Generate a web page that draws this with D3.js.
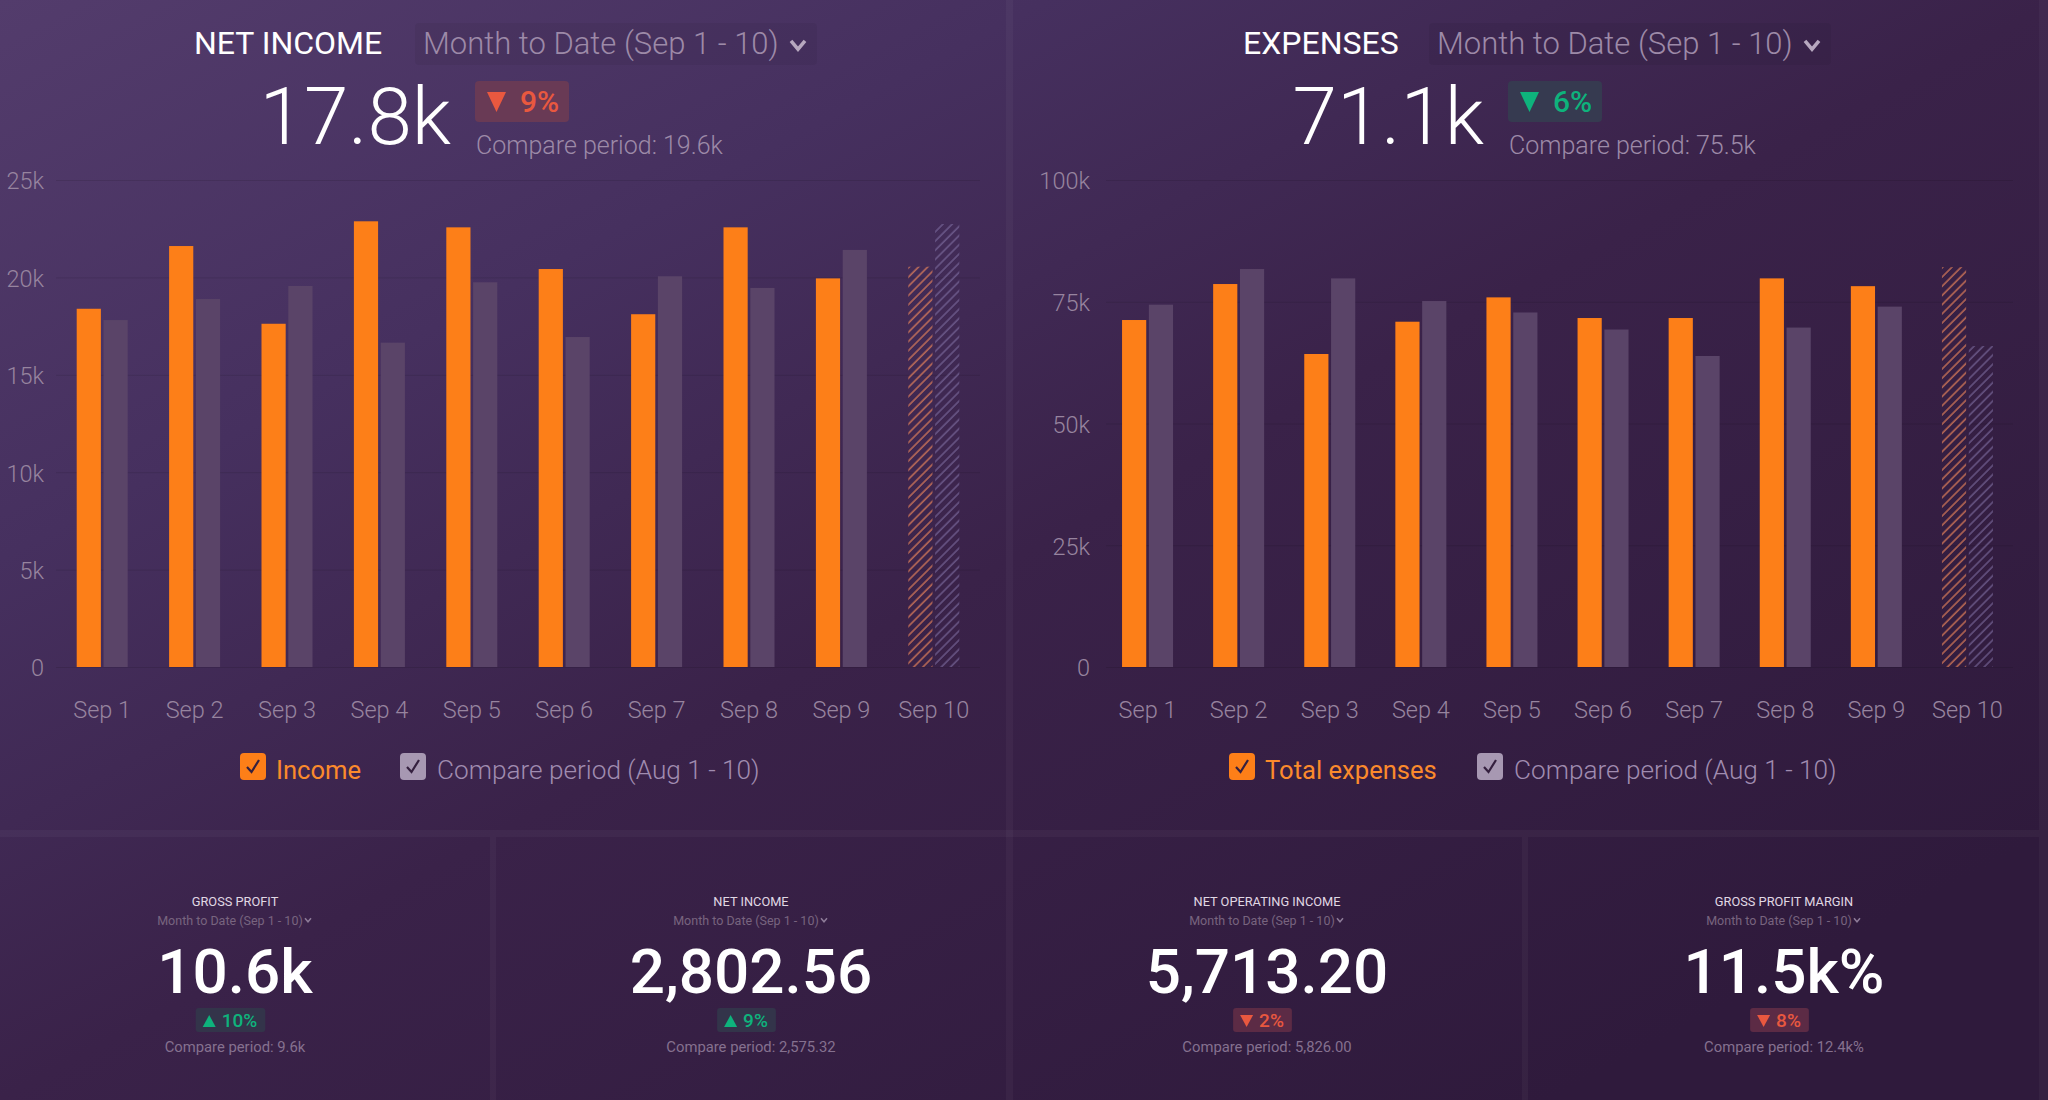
<!DOCTYPE html>
<html>
<head>
<meta charset="utf-8">
<script src="https://cdn.jsdelivr.net/npm/d3@7"></script>
<style>
  html, body { margin: 0; padding: 0; background: #38203f; overflow: hidden; }
  svg { display: block; }
  text { font-family: Roboto, "Noto Sans", sans-serif; }
  .axis path { display: none; }
  .axis text { fill: #97849f; font-size: 23.5px; font-weight: 300; font-family: Roboto; }
  .grid path { display: none; }
  .grid line { stroke: #000; stroke-opacity: 0.1; }
</style>
</head>
<body>
<script>
//--> Chart data
const days = ["Sep 1", "Sep 2", "Sep 3", "Sep 4", "Sep 5", "Sep 6", "Sep 7", "Sep 8", "Sep 9", "Sep 10"];

const income = [18390, 21610, 17620, 22880, 22570, 20430, 18110, 22570, 19950, 20550];
const incomeCompare = [17810, 18890, 19560, 16650, 19750, 16940, 20060, 19460, 21410, 22740];
const incomeTicks = [0, 5000, 10000, 15000, 20000, 25000];

const expenses = [71250, 78640, 64270, 70900, 75900, 71660, 71660, 79800, 78200, 82100];
const expensesCompare = [74400, 81720, 79800, 75150, 72800, 69300, 63860, 69700, 74000, 65900];
const expensesTicks = [0, 25000, 50000, 75000, 100000];

const kpiTitles = ["GROSS PROFIT", "NET INCOME", "NET OPERATING INCOME", "GROSS PROFIT MARGIN"];
const kpiValues = ["10.6k", "2,802.56", "5,713.20", "11.5k%"];
const kpiChanges = ["10%", "9%", "2%", "8%"];
const kpiDirections = ["up", "up", "down", "down"];
const kpiCompare = ["9.6k", "2,575.32", "5,826.00", "12.4k%"];

const period = "Month to Date (Sep 1 - 10)";

//--> Set up main elements
const width = 2048;
const height = 1100;
const orange = "#fd7f18";
const compareColor = "#5a4468";
const red = "#e9583f";
const green = "#0eb37c";

const svg = d3.select("body").append("svg").attr("width", width).attr("height", height);
const defs = svg.append("defs");

const bg = defs
  .append("linearGradient")
  .attr("id", "bg")
  .attr("gradientUnits", "userSpaceOnUse")
  .attr("x1", 0)
  .attr("y1", 0)
  .attr("x2", 800)
  .attr("y2", 1500);
bg.append("stop").attr("offset", "0%").attr("stop-color", "#533c6c");
bg.append("stop").attr("offset", "29%").attr("stop-color", "#46305f");
bg.append("stop").attr("offset", "57%").attr("stop-color", "#3a2249");
bg.append("stop").attr("offset", "100%").attr("stop-color", "#2f1a3c");

function hatch(id, color, opacity) {
  const p = defs
    .append("pattern")
    .attr("id", id)
    .attr("patternUnits", "userSpaceOnUse")
    .attr("width", 6.5)
    .attr("height", 6.5)
    .attr("patternTransform", "rotate(45)");
  p.append("line")
    .attr("x1", 1)
    .attr("x2", 1)
    .attr("y1", 0)
    .attr("y2", 6.5)
    .attr("stroke", color)
    .attr("stroke-opacity", opacity)
    .attr("stroke-width", 1.3);
}
hatch("hatch-current", "#f0875a", 0.85);
hatch("hatch-compare", "#7a6a9c", 0.85);

svg.append("rect").attr("width", width).attr("height", height).attr("fill", "url(#bg)");

//--> Panel gutters
const gutters = svg.append("g").attr("fill", "#fff").attr("fill-opacity", 0.035);
gutters.append("rect").attr("x", 1006).attr("y", 0).attr("width", 7).attr("height", height);
gutters.append("rect").attr("x", 2039).attr("y", 0).attr("width", 9).attr("height", height);
gutters.append("rect").attr("x", 0).attr("y", 830).attr("width", 2039).attr("height", 7);
gutters.append("rect").attr("x", 490).attr("y", 837).attr("width", 6).attr("height", 263);
gutters.append("rect").attr("x", 1522).attr("y", 837).attr("width", 6).attr("height", 263);

function chevron(parent, cx, cy, size, color) {
  parent
    .append("path")
    .attr("d", `M${cx - size},${cy - size * 0.6}L${cx},${cy + size * 0.6}L${cx + size},${cy - size * 0.6}`)
    .attr("fill", "none")
    .attr("stroke", color)
    .attr("stroke-width", size * 0.5);
}

function triangle(parent, x, y, w, h, dir, color) {
  const d =
    dir === "down"
      ? `M${x},${y}L${x + w},${y}L${x + w / 2},${y + h}Z`
      : `M${x},${y + h}L${x + w},${y + h}L${x + w / 2},${y}Z`;
  parent.append("path").attr("d", d).attr("fill", color);
}

function checkbox(x, y, color) {
  svg.append("rect").attr("x", x).attr("y", y).attr("width", 26).attr("height", 27).attr("rx", 4).attr("fill", color);
  svg
    .append("path")
    .attr("d", `M${x + 7},${y + 14}L${x + 11.5},${y + 19}L${x + 19},${y + 7}`)
    .attr("fill", "none")
    .attr("stroke", "#35203f")
    .attr("stroke-width", 2.2);
}

//--> Big chart panel
function drawChart(o) {
  const y = d3.scaleLinear().domain([0, d3.max(o.ticks)]).range([667, 180]);
  const x = d3.scaleBand().domain(days).range(o.xRange);
  const sub = d3.scaleBand().domain(["current", "compare"]).range([0, 51]).paddingInner(5 / 51);

  svg
    .append("g")
    .attr("class", "grid")
    .attr("transform", `translate(${o.gridRange[0]},0)`)
    .call(d3.axisLeft(y).tickValues(o.ticks).tickSize(o.gridRange[0] - o.gridRange[1]).tickFormat(""));

  svg
    .append("g")
    .attr("class", "axis")
    .attr("transform", `translate(${o.axisX},0)`)
    .call(
      d3
        .axisLeft(y)
        .tickValues(o.ticks)
        .tickSize(0)
        .tickPadding(0)
        .tickFormat(d => (d ? `${d / 1000}k` : "0"))
    )
    .selectAll("text")
    .attr("dy", "0.38em");

  svg
    .append("g")
    .attr("class", "axis")
    .attr("transform", "translate(0,700)")
    .call(d3.axisBottom(x).tickSize(0).tickPadding(0))
    .selectAll("text")
    .attr("dy", "0.75em");

  const rows = days.map((d, i) => ({ day: d, current: o.current[i], compare: o.compare[i], last: i === days.length - 1 }));

  const groups = svg
    .selectAll(null)
    .data(rows)
    .enter()
    .append("g")
    .attr("transform", d => `translate(${x(d.day) + x.bandwidth() / 2 - 25.5},0)`);

  groups
    .append("rect")
    .attr("x", sub("current"))
    .attr("width", sub.bandwidth())
    .attr("y", d => y(d.current))
    .attr("height", d => y(0) - y(d.current))
    .attr("fill", d => (d.last ? "url(#hatch-current)" : orange));

  groups
    .append("rect")
    .attr("x", sub("compare"))
    .attr("width", sub.bandwidth())
    .attr("y", d => y(d.compare))
    .attr("height", d => y(0) - y(d.compare))
    .attr("fill", d => (d.last ? "url(#hatch-compare)" : compareColor));

  //--> Header
  svg.append("rect").attr("x", o.pillX).attr("y", 23).attr("width", 402).attr("height", 42).attr("rx", 4).attr("fill", "#000").attr("fill-opacity", 0.05);
  svg.append("text").attr("x", o.titleX).attr("y", 54).attr("fill", "#fff").attr("font-size", 32).text(o.title);
  svg.append("text").attr("x", o.pillX + 8).attr("y", 54).attr("fill", "#9d8aa8").attr("font-size", 31).attr("font-weight", 300).text(period);
  chevron(svg, o.pillX + 383, 45, 7, "#b7a8bf");

  svg.append("text").attr("x", o.valueX).attr("y", 144).attr("text-anchor", "end").attr("fill", "#fff").attr("font-size", 80).attr("font-weight", 300).text(o.value);

  svg.append("rect").attr("x", o.valueX + 24).attr("y", 81).attr("width", 94).attr("height", 41).attr("rx", 4).attr("fill", o.badgeFill);
  triangle(svg, o.valueX + 36, 92, 19, 20, "down", o.badgeColor);
  svg.append("text").attr("x", o.valueX + 69).attr("y", 112).attr("fill", o.badgeColor).attr("font-size", 30).attr("font-weight", 500).text(o.change);
  svg.append("text").attr("x", o.valueX + 25).attr("y", 154).attr("fill", "#9d8aa8").attr("font-size", 25).attr("font-weight", 300).text(`Compare period: ${o.compareValue}`);

  //--> Legend
  checkbox(o.legendX[0], 753, orange);
  svg.append("text").attr("x", o.legendX[0] + 36).attr("y", 779).attr("fill", "#fb8a2c").attr("font-size", 25.6).attr("font-weight", 400).text(o.legend);
  checkbox(o.legendX[1], 753, "#a798b2");
  svg.append("text").attr("x", o.legendX[1] + 37).attr("y", 779).attr("fill", "#a08cb0").attr("font-size", 26.2).attr("font-weight", 300).text("Compare period (Aug 1 - 10)");
}

drawChart({
  title: "NET INCOME",
  value: "17.8k",
  change: "9%",
  compareValue: "19.6k",
  legend: "Income",
  current: income,
  compare: incomeCompare,
  ticks: incomeTicks,
  xRange: [56, 980],
  gridRange: [56, 980],
  axisX: 44,
  titleX: 194,
  pillX: 415,
  valueX: 451,
  badgeColor: red,
  badgeFill: "#693a55",
  legendX: [240, 400],
});

drawChart({
  title: "EXPENSES",
  value: "71.1k",
  change: "6%",
  compareValue: "75.5k",
  legend: "Total expenses",
  current: expenses,
  compare: expensesCompare,
  ticks: expensesTicks,
  xRange: [1102, 2013],
  gridRange: [1106, 2013],
  axisX: 1090,
  titleX: 1243,
  pillX: 1429,
  valueX: 1484,
  badgeColor: green,
  badgeFill: "#363a50",
  legendX: [1229, 1477],
});

//--> Small KPI cards
const kpiCenters = [235, 751, 1267, 1784];

kpiTitles.forEach((title, i) => {
  const cx = kpiCenters[i];
  const up = kpiDirections[i] === "up";
  const color = up ? green : red;
  const g = svg.append("g");

  g.append("text").attr("x", cx).attr("y", 906).attr("text-anchor", "middle").attr("fill", "#e0d8e4").attr("font-size", 12.8).text(title);
  g.append("text").attr("x", cx - 5).attr("y", 925).attr("text-anchor", "middle").attr("fill", "#78647f").attr("font-size", 12.5).text(period);
  chevron(g, cx + 73, 920, 3, "#8e7c99");
  g.append("text").attr("x", cx).attr("y", 993).attr("text-anchor", "middle").attr("fill", "#fff").attr("font-size", 62).attr("font-weight", 500).text(kpiValues[i]);

  const badge = g.append("rect").attr("y", 1008).attr("height", 24).attr("rx", 3).attr("fill", up ? "#33344a" : "#5c2b45");
  const label = g.append("text").attr("y", 1027).attr("fill", color).attr("font-size", 19).attr("font-weight", 500).text(kpiChanges[i]);
  const labelWidth = label.node().getComputedTextLength();
  const left = cx - 4.5 - (labelWidth + 34) / 2;
  badge.attr("x", left).attr("width", labelWidth + 34);
  triangle(g, left + 7, 1015, 13, 12, kpiDirections[i], color);
  label.attr("x", left + 26);

  g.append("text").attr("x", cx).attr("y", 1052).attr("text-anchor", "middle").attr("fill", "#85718f").attr("font-size", 14.8).text(`Compare period: ${kpiCompare[i]}`);
});
</script>
</body>
</html>
